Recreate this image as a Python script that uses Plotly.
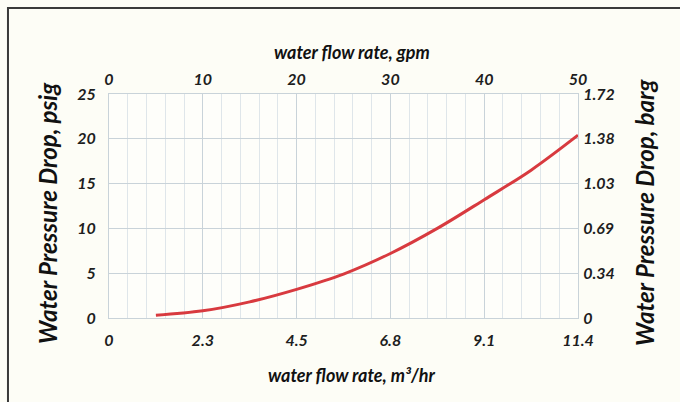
import plotly.graph_objects as go

# Data
gpm = [5, 10, 15, 20, 25, 30, 35, 40, 45, 50]
psig = [0.3, 0.8, 1.8, 3.2, 4.9, 7.2, 10.0, 13.2, 16.5, 20.4]

gpm_ticks = [0, 10, 20, 30, 40, 50]
gpm_labels = ["0", "10", "20", "30", "40", "50"]
m3hr_labels = ["0", "2.3", "4.5", "6.8", "9.1", "11.4"]
psig_ticks = [0, 5, 10, 15, 20, 25]
psig_labels = ["0", "5", "10", "15", "20", "25"]
barg_labels = ["0", "0.34", "0.69", "1.03", "1.38", "1.72"]

FONT = "Lato"
tickfont = dict(family=FONT, size=16, color="#1e1e1e", style="italic", weight=700)
titlefont_x = dict(family=FONT, size=18, color="#111111", style="italic", weight=700)
titlefont_y = dict(family=FONT, size=24, color="#111111", style="italic", weight=700)

GRID_MAJOR = "#c9d3d9"
GRID_MINOR = "#dfe6ea"
CLEAR = "rgba(0,0,0,0)"

fig = go.Figure()
fig.add_trace(go.Scatter(
    x=gpm, y=psig, mode="lines", line=dict(color="#d83a3f", width=3, shape="spline"),
    showlegend=False, hoverinfo="skip"))
fig.add_trace(go.Scatter(
    x=[None], y=[None], xaxis="x2", yaxis="y2", showlegend=False, hoverinfo="skip"))

fig.update_layout(
    width=680, height=402,
    margin=dict(l=109, r=102, t=94, b=84, autoexpand=False),
    paper_bgcolor="#fdfdf6",
    plot_bgcolor="#fefefa",
    xaxis=dict(
        range=[0, 50], tickvals=gpm_ticks, ticktext=m3hr_labels,
        ticks="outside", ticklen=8, tickcolor=CLEAR, tickfont=tickfont,
        showgrid=True, gridcolor=GRID_MAJOR, gridwidth=1,
        minor=dict(dtick=2, showgrid=True, gridcolor=GRID_MINOR, gridwidth=1, ticks=""),
        zeroline=False, showline=True, linecolor=GRID_MAJOR, linewidth=1, mirror=True,
        fixedrange=True),
    xaxis2=dict(
        overlaying="x", side="top", matches="x",
        tickvals=gpm_ticks, ticktext=gpm_labels,
        ticks="outside", ticklen=2, tickcolor=CLEAR, tickfont=tickfont,
        showgrid=False, zeroline=False, showline=False),
    yaxis=dict(
        range=[0, 25], tickvals=psig_ticks, ticktext=psig_labels,
        ticks="outside", ticklen=9, tickcolor=CLEAR, tickfont=tickfont,
        showgrid=True, gridcolor=GRID_MAJOR, gridwidth=1,
        zeroline=False, showline=True, linecolor=GRID_MAJOR, linewidth=1, mirror=True,
        fixedrange=True),
    yaxis2=dict(
        overlaying="y", side="right", matches="y",
        tickvals=psig_ticks, ticktext=barg_labels,
        ticks="outside", ticklen=1, tickcolor=CLEAR, tickfont=tickfont,
        showgrid=False, zeroline=False, showline=False),
)

ann = dict(xref="paper", yref="paper", showarrow=False, xanchor="center", yanchor="middle")
fig.add_annotation(text="water flow rate, gpm", x=0.518, y=1.188, font=titlefont_x, **ann)
fig.add_annotation(text="water flow rate, m\u00b3/hr", x=0.518, y=-0.256, font=titlefont_x, **ann)
fig.add_annotation(text="Water Pressure Drop, psig", x=-0.130, y=0.469, textangle=-90,
                   font=titlefont_y, **ann)
fig.add_annotation(text="Water Pressure Drop, barg", x=1.143, y=0.469, textangle=-90,
                   font=titlefont_y, **ann)

# Outer frame (top and left edges visible, continues past the image)
fig.add_shape(type="rect", xref="paper", yref="paper",
              x0=-0.2154, x1=1.30, y0=-0.45, y1=1.384,
              line=dict(color="#3a3a3a", width=2), fillcolor=CLEAR, layer="above")

fig.write_html("out.html", config={"displayModeBar": False},
               post_script="document.body.style.margin='0';")
